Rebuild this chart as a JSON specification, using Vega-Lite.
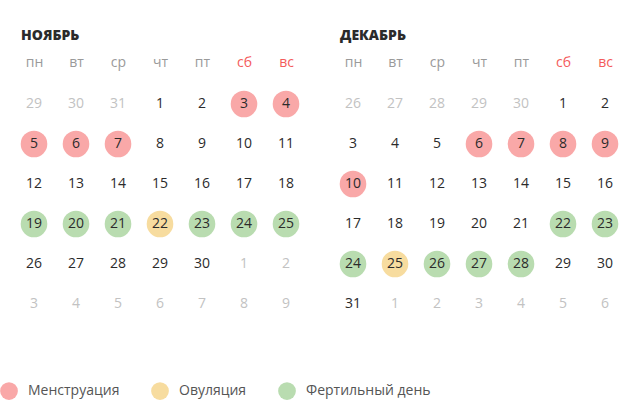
{
  "$schema": "https://vega.github.io/schema/vega-lite/v6.json",
  "padding": {"left": 0, "top": 29, "right": 0, "bottom": 0},
  "background": "#ffffff",
  "config": {
    "view": {"stroke": null},
    "font": "Open Sans",
    "concat": {"spacing": 25}
  },
  "data": {
    "values": [
      {"month": "НОЯБРЬ", "week": 0, "weekday": "пн", "day": 29, "current": false, "phase": null},
      {"month": "НОЯБРЬ", "week": 0, "weekday": "вт", "day": 30, "current": false, "phase": null},
      {"month": "НОЯБРЬ", "week": 0, "weekday": "ср", "day": 31, "current": false, "phase": null},
      {"month": "НОЯБРЬ", "week": 0, "weekday": "чт", "day": 1, "current": true, "phase": null},
      {"month": "НОЯБРЬ", "week": 0, "weekday": "пт", "day": 2, "current": true, "phase": null},
      {"month": "НОЯБРЬ", "week": 0, "weekday": "сб", "day": 3, "current": true, "phase": "Менструация"},
      {"month": "НОЯБРЬ", "week": 0, "weekday": "вс", "day": 4, "current": true, "phase": "Менструация"},
      {"month": "НОЯБРЬ", "week": 1, "weekday": "пн", "day": 5, "current": true, "phase": "Менструация"},
      {"month": "НОЯБРЬ", "week": 1, "weekday": "вт", "day": 6, "current": true, "phase": "Менструация"},
      {"month": "НОЯБРЬ", "week": 1, "weekday": "ср", "day": 7, "current": true, "phase": "Менструация"},
      {"month": "НОЯБРЬ", "week": 1, "weekday": "чт", "day": 8, "current": true, "phase": null},
      {"month": "НОЯБРЬ", "week": 1, "weekday": "пт", "day": 9, "current": true, "phase": null},
      {"month": "НОЯБРЬ", "week": 1, "weekday": "сб", "day": 10, "current": true, "phase": null},
      {"month": "НОЯБРЬ", "week": 1, "weekday": "вс", "day": 11, "current": true, "phase": null},
      {"month": "НОЯБРЬ", "week": 2, "weekday": "пн", "day": 12, "current": true, "phase": null},
      {"month": "НОЯБРЬ", "week": 2, "weekday": "вт", "day": 13, "current": true, "phase": null},
      {"month": "НОЯБРЬ", "week": 2, "weekday": "ср", "day": 14, "current": true, "phase": null},
      {"month": "НОЯБРЬ", "week": 2, "weekday": "чт", "day": 15, "current": true, "phase": null},
      {"month": "НОЯБРЬ", "week": 2, "weekday": "пт", "day": 16, "current": true, "phase": null},
      {"month": "НОЯБРЬ", "week": 2, "weekday": "сб", "day": 17, "current": true, "phase": null},
      {"month": "НОЯБРЬ", "week": 2, "weekday": "вс", "day": 18, "current": true, "phase": null},
      {"month": "НОЯБРЬ", "week": 3, "weekday": "пн", "day": 19, "current": true, "phase": "Фертильный день"},
      {"month": "НОЯБРЬ", "week": 3, "weekday": "вт", "day": 20, "current": true, "phase": "Фертильный день"},
      {"month": "НОЯБРЬ", "week": 3, "weekday": "ср", "day": 21, "current": true, "phase": "Фертильный день"},
      {"month": "НОЯБРЬ", "week": 3, "weekday": "чт", "day": 22, "current": true, "phase": "Овуляция"},
      {"month": "НОЯБРЬ", "week": 3, "weekday": "пт", "day": 23, "current": true, "phase": "Фертильный день"},
      {"month": "НОЯБРЬ", "week": 3, "weekday": "сб", "day": 24, "current": true, "phase": "Фертильный день"},
      {"month": "НОЯБРЬ", "week": 3, "weekday": "вс", "day": 25, "current": true, "phase": "Фертильный день"},
      {"month": "НОЯБРЬ", "week": 4, "weekday": "пн", "day": 26, "current": true, "phase": null},
      {"month": "НОЯБРЬ", "week": 4, "weekday": "вт", "day": 27, "current": true, "phase": null},
      {"month": "НОЯБРЬ", "week": 4, "weekday": "ср", "day": 28, "current": true, "phase": null},
      {"month": "НОЯБРЬ", "week": 4, "weekday": "чт", "day": 29, "current": true, "phase": null},
      {"month": "НОЯБРЬ", "week": 4, "weekday": "пт", "day": 30, "current": true, "phase": null},
      {"month": "НОЯБРЬ", "week": 4, "weekday": "сб", "day": 1, "current": false, "phase": null},
      {"month": "НОЯБРЬ", "week": 4, "weekday": "вс", "day": 2, "current": false, "phase": null},
      {"month": "НОЯБРЬ", "week": 5, "weekday": "пн", "day": 3, "current": false, "phase": null},
      {"month": "НОЯБРЬ", "week": 5, "weekday": "вт", "day": 4, "current": false, "phase": null},
      {"month": "НОЯБРЬ", "week": 5, "weekday": "ср", "day": 5, "current": false, "phase": null},
      {"month": "НОЯБРЬ", "week": 5, "weekday": "чт", "day": 6, "current": false, "phase": null},
      {"month": "НОЯБРЬ", "week": 5, "weekday": "пт", "day": 7, "current": false, "phase": null},
      {"month": "НОЯБРЬ", "week": 5, "weekday": "сб", "day": 8, "current": false, "phase": null},
      {"month": "НОЯБРЬ", "week": 5, "weekday": "вс", "day": 9, "current": false, "phase": null},
      {"month": "ДЕКАБРЬ", "week": 0, "weekday": "пн", "day": 26, "current": false, "phase": null},
      {"month": "ДЕКАБРЬ", "week": 0, "weekday": "вт", "day": 27, "current": false, "phase": null},
      {"month": "ДЕКАБРЬ", "week": 0, "weekday": "ср", "day": 28, "current": false, "phase": null},
      {"month": "ДЕКАБРЬ", "week": 0, "weekday": "чт", "day": 29, "current": false, "phase": null},
      {"month": "ДЕКАБРЬ", "week": 0, "weekday": "пт", "day": 30, "current": false, "phase": null},
      {"month": "ДЕКАБРЬ", "week": 0, "weekday": "сб", "day": 1, "current": true, "phase": null},
      {"month": "ДЕКАБРЬ", "week": 0, "weekday": "вс", "day": 2, "current": true, "phase": null},
      {"month": "ДЕКАБРЬ", "week": 1, "weekday": "пн", "day": 3, "current": true, "phase": null},
      {"month": "ДЕКАБРЬ", "week": 1, "weekday": "вт", "day": 4, "current": true, "phase": null},
      {"month": "ДЕКАБРЬ", "week": 1, "weekday": "ср", "day": 5, "current": true, "phase": null},
      {"month": "ДЕКАБРЬ", "week": 1, "weekday": "чт", "day": 6, "current": true, "phase": "Менструация"},
      {"month": "ДЕКАБРЬ", "week": 1, "weekday": "пт", "day": 7, "current": true, "phase": "Менструация"},
      {"month": "ДЕКАБРЬ", "week": 1, "weekday": "сб", "day": 8, "current": true, "phase": "Менструация"},
      {"month": "ДЕКАБРЬ", "week": 1, "weekday": "вс", "day": 9, "current": true, "phase": "Менструация"},
      {"month": "ДЕКАБРЬ", "week": 2, "weekday": "пн", "day": 10, "current": true, "phase": "Менструация"},
      {"month": "ДЕКАБРЬ", "week": 2, "weekday": "вт", "day": 11, "current": true, "phase": null},
      {"month": "ДЕКАБРЬ", "week": 2, "weekday": "ср", "day": 12, "current": true, "phase": null},
      {"month": "ДЕКАБРЬ", "week": 2, "weekday": "чт", "day": 13, "current": true, "phase": null},
      {"month": "ДЕКАБРЬ", "week": 2, "weekday": "пт", "day": 14, "current": true, "phase": null},
      {"month": "ДЕКАБРЬ", "week": 2, "weekday": "сб", "day": 15, "current": true, "phase": null},
      {"month": "ДЕКАБРЬ", "week": 2, "weekday": "вс", "day": 16, "current": true, "phase": null},
      {"month": "ДЕКАБРЬ", "week": 3, "weekday": "пн", "day": 17, "current": true, "phase": null},
      {"month": "ДЕКАБРЬ", "week": 3, "weekday": "вт", "day": 18, "current": true, "phase": null},
      {"month": "ДЕКАБРЬ", "week": 3, "weekday": "ср", "day": 19, "current": true, "phase": null},
      {"month": "ДЕКАБРЬ", "week": 3, "weekday": "чт", "day": 20, "current": true, "phase": null},
      {"month": "ДЕКАБРЬ", "week": 3, "weekday": "пт", "day": 21, "current": true, "phase": null},
      {"month": "ДЕКАБРЬ", "week": 3, "weekday": "сб", "day": 22, "current": true, "phase": "Фертильный день"},
      {"month": "ДЕКАБРЬ", "week": 3, "weekday": "вс", "day": 23, "current": true, "phase": "Фертильный день"},
      {"month": "ДЕКАБРЬ", "week": 4, "weekday": "пн", "day": 24, "current": true, "phase": "Фертильный день"},
      {"month": "ДЕКАБРЬ", "week": 4, "weekday": "вт", "day": 25, "current": true, "phase": "Овуляция"},
      {"month": "ДЕКАБРЬ", "week": 4, "weekday": "ср", "day": 26, "current": true, "phase": "Фертильный день"},
      {"month": "ДЕКАБРЬ", "week": 4, "weekday": "чт", "day": 27, "current": true, "phase": "Фертильный день"},
      {"month": "ДЕКАБРЬ", "week": 4, "weekday": "пт", "day": 28, "current": true, "phase": "Фертильный день"},
      {"month": "ДЕКАБРЬ", "week": 4, "weekday": "сб", "day": 29, "current": true, "phase": null},
      {"month": "ДЕКАБРЬ", "week": 4, "weekday": "вс", "day": 30, "current": true, "phase": null},
      {"month": "ДЕКАБРЬ", "week": 5, "weekday": "пн", "day": 31, "current": true, "phase": null},
      {"month": "ДЕКАБРЬ", "week": 5, "weekday": "вт", "day": 1, "current": false, "phase": null},
      {"month": "ДЕКАБРЬ", "week": 5, "weekday": "ср", "day": 2, "current": false, "phase": null},
      {"month": "ДЕКАБРЬ", "week": 5, "weekday": "чт", "day": 3, "current": false, "phase": null},
      {"month": "ДЕКАБРЬ", "week": 5, "weekday": "пт", "day": 4, "current": false, "phase": null},
      {"month": "ДЕКАБРЬ", "week": 5, "weekday": "сб", "day": 5, "current": false, "phase": null},
      {"month": "ДЕКАБРЬ", "week": 5, "weekday": "вс", "day": 6, "current": false, "phase": null}
    ]
  },
  "hconcat": [
    {
      "title": {"text": "НОЯБРЬ", "anchor": "start", "fontSize": 14, "fontWeight": 800, "color": "#2b2b2b", "dx": 8, "offset": 12},
      "transform": [{"filter": "datum.month == 'НОЯБРЬ'"}],
      "width": 294,
      "height": 240,
      "encoding": {
        "x": {"field": "weekday", "type": "ordinal", "sort": ["пн", "вт", "ср", "чт", "пт", "сб", "вс"], "title": null,
          "axis": {"orient": "top", "domain": false, "ticks": false, "labelAngle": 0, "labelFontSize": 14, "labelPadding": 15,
            "labelColor": {"condition": {"test": "datum.value == 'сб' || datum.value == 'вс'", "value": "#f45b5b"}, "value": "#9a9a9a"}}},
        "y": {"field": "week", "type": "ordinal", "axis": null}
      },
      "layer": [
        {
          "transform": [{"filter": "datum.phase != null"}],
          "mark": {"type": "circle", "size": 707, "opacity": 1},
          "encoding": {
            "color": {"field": "phase", "type": "nominal", "title": null,
              "scale": {"domain": ["Менструация", "Овуляция", "Фертильный день"], "range": ["#f9a8a8", "#f7dc9f", "#b9dcb0"]}}
          }
        },
        {
          "mark": {"type": "text", "fontSize": 14, "baseline": "middle"},
          "encoding": {
            "text": {"field": "day"},
            "color": {"condition": {"test": "datum.current", "value": "#2b2b2b"}, "value": "#c2c2c2"}
          }
        }
      ]
    },
    {
      "title": {"text": "ДЕКАБРЬ", "anchor": "start", "fontSize": 14, "fontWeight": 800, "color": "#2b2b2b", "dx": 8, "offset": 12},
      "transform": [{"filter": "datum.month == 'ДЕКАБРЬ'"}],
      "width": 294,
      "height": 240,
      "encoding": {
        "x": {"field": "weekday", "type": "ordinal", "sort": ["пн", "вт", "ср", "чт", "пт", "сб", "вс"], "title": null,
          "axis": {"orient": "top", "domain": false, "ticks": false, "labelAngle": 0, "labelFontSize": 14, "labelPadding": 15,
            "labelColor": {"condition": {"test": "datum.value == 'сб' || datum.value == 'вс'", "value": "#f45b5b"}, "value": "#9a9a9a"}}},
        "y": {"field": "week", "type": "ordinal", "axis": null}
      },
      "layer": [
        {
          "transform": [{"filter": "datum.phase != null"}],
          "mark": {"type": "circle", "size": 707, "opacity": 1},
          "encoding": {
            "color": {"field": "phase", "type": "nominal", "title": null,
              "scale": {"domain": ["Менструация", "Овуляция", "Фертильный день"], "range": ["#f9a8a8", "#f7dc9f", "#b9dcb0"]},
              "legend": {"orient": "none", "direction": "horizontal", "legendX": -13, "legendY": 298,
                "symbolType": "circle", "symbolSize": 314, "symbolOpacity": 1, "symbolStrokeWidth": 0,
                "labelFontSize": 14, "labelColor": "#555555", "labelOffset": 10, "columnPadding": 31}}
          }
        },
        {
          "mark": {"type": "text", "fontSize": 14, "baseline": "middle"},
          "encoding": {
            "text": {"field": "day"},
            "color": {"condition": {"test": "datum.current", "value": "#2b2b2b"}, "value": "#c2c2c2"}
          }
        }
      ]
    }
  ]
}
